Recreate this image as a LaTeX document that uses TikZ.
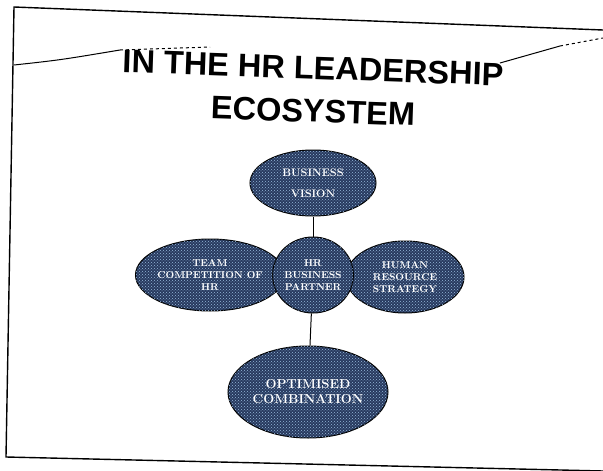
\documentclass[tikz,border=0pt]{standalone}
\usepackage{fontspec}
\usepackage{xcolor}
\usetikzlibrary{shapes.geometric,patterns,positioning}
\newfontfamily\headfont{Liberation Sans}
\definecolor{blobfill}{RGB}{40,58,95}
\definecolor{speck}{RGB}{150,185,220}

\begin{document}
\begin{tikzpicture}[x=1pt,y=-1pt,inner sep=0pt,
  blob/.style={ellipse,draw=black,line width=1pt,fill=blobfill,text=white,align=center,
    font=\bfseries\fontsize{10}{12}\selectfont,
    postaction={pattern=crosshatch dots,pattern color=speck}},
  title/.style={font=\headfont\bfseries\fontsize{32.5}{36}\selectfont,rotate=-2},
  frame/.style={line width=1.4pt,black},
  scratch/.style={line width=1pt,black}]
\useasboundingbox (0,0) rectangle (603,471);

% page edges
\coordinate (tl) at (14,7);
\coordinate (tr) at (603,30);
\coordinate (bl) at (6,457);
\coordinate (br) at (603,471);
\draw[frame] (tr) -- (tl) -- (bl) -- (br);

% scratched line behind the title
\coordinate (sl0) at (14,65);
\coordinate (sl1) at (120,50);
\coordinate (sl2) at (210,47);
\coordinate (sr0) at (500,63);
\coordinate (sr1) at (560,46);
\coordinate (sr2) at (603,38);
\draw[scratch] (sl0) .. controls (60,60) .. (sl1);
\draw[scratch,dashed] (sl1) -- (sl2);
\draw[scratch] (sr0) -- (sr1);
\draw[scratch,dashed] (sr1) -- (sr2);

% heading
\node[title] (head) at (313,68) {IN THE HR LEADERSHIP};
\node[title] (head2) at (313,111) {ECOSYSTEM};

% ecosystem
\node[blob,minimum width=126pt,minimum height=66pt,font=\bfseries\fontsize{11}{12}\selectfont] (vision) at (313,183) {BUSINESS\\[9pt]VISION};
\node[blob,minimum width=146pt,minimum height=72pt] (team) at (210,275) {TEAM\\COMPETITION OF\\HR};
\node[blob,minimum width=118pt,minimum height=72pt] (strategy) at (405,277) {HUMAN\\RESOURCE\\STRATEGY};
\node[blob,minimum width=70pt,minimum height=76pt] (partner) at (313,275) {HR\\BUSINESS\\PARTNER};
\node[blob,minimum width=160pt,minimum height=92pt,font=\bfseries\fontsize{13}{15}\selectfont] (combo) at (308,392) {OPTIMISED\\COMBINATION};

\path (vision) edge [line width=1pt] (partner);
\path (partner) edge [line width=1pt] (combo);

\end{tikzpicture}
\end{document}
